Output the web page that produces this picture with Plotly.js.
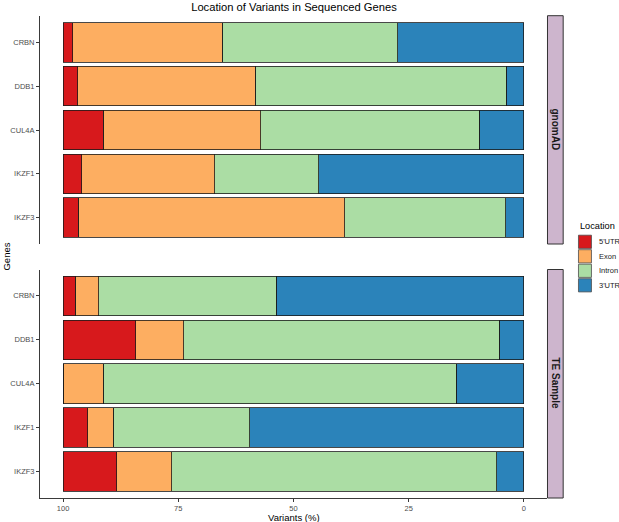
<!DOCTYPE html>
<html>
<head>
<meta charset="utf-8">
<script src="https://cdn.plot.ly/plotly-3.0.1.min.js"></script>
<style>html,body{margin:0;padding:0;background:#fff;}#chart{width:619px;height:522px;}</style>
</head>
<body>
<div id="chart"></div>
<script>
// ---- data ----
var genes = ['CRBN', 'DDB1', 'CUL4A', 'IKZF1', 'IKZF3'];
var locations = ["5'UTR", 'Exon', 'Intron', "3'UTR"];
var colors = ['#D7191C', '#FDAE61', '#ABDDA4', '#2B83BA'];
var facets = ['gnomAD', 'TE Sample'];

var utr5_gnomad   = [2.1, 3.2, 8.7, 4.1, 3.3];
var exon_gnomad   = [32.4, 38.5, 34.2, 28.8, 57.8];
var intron_gnomad = [38.1, 54.5, 47.4, 22.6, 35.0];
var utr3_gnomad   = [27.4, 3.8, 9.7, 44.5, 3.9];

var utr5_te   = [2.7, 15.8, 0, 5.4, 11.7];
var exon_te   = [5.0, 10.4, 8.7, 5.5, 11.9];
var intron_te = [38.6, 68.4, 76.6, 29.6, 70.5];
var utr3_te   = [53.7, 5.4, 14.7, 59.5, 5.9];

var xTicks = [100, 75, 50, 25, 0];

// ---- build ----
(function () {
var W = 619, H = 522;
var L = 40, R = 71.5, T = 16, B = 24;
var plotW = W - L - R, plotH = H - T - B;
function px2x(p) { return (p - L) / plotW; }
function px2y(p) { return (H - B - p) / plotH; }
var FONT = 'Liberation Sans, Arial, sans-serif';

var seriesByFacet = [
  [utr5_gnomad, exon_gnomad, intron_gnomad, utr3_gnomad],
  [utr5_te, exon_te, intron_te, utr3_te]
];
var yaxes = ['y', 'y2'];
var traces = [];
for (var f = 0; f < 2; f++) {
  // stack from 0 outward: 3'UTR first, 5'UTR last
  for (var k = 3; k >= 0; k--) {
    traces.push({
      type: 'bar', orientation: 'h',
      x: seriesByFacet[f][k], y: genes,
      name: locations[k], legendgroup: locations[k],
      showlegend: false,
      xaxis: 'x', yaxis: yaxes[f],
      marker: {color: colors[k], line: {color: '#1a1a1a', width: 0.8}},
      hoverinfo: 'x+y+name'
    });
  }
}

var axisColor = '#3a3a3a';
var tickFont = {family: FONT, size: 7.5, color: '#4D4D4D'};
function yAxis(domain) {
  return {
    domain: domain, anchor: 'x',
    type: 'category', categoryorder: 'array', categoryarray: genes,
    range: [4.6, -0.6], autorange: false,
    showline: true, linecolor: axisColor, linewidth: 1,
    ticks: 'outside', ticklen: 3, tickcolor: axisColor, tickwidth: 1,
    showgrid: false, zeroline: false, tickfont: tickFont, fixedrange: true
  };
}

var shapes = [], annotations = [];
// facet strips
var strips = [[15.7, 244], [269.5, 498]];
for (var s = 0; s < 2; s++) {
  shapes.push({type: 'rect', xref: 'paper', yref: 'paper',
    x0: px2x(548), x1: px2x(563.7), y0: px2y(strips[s][1]), y1: px2y(strips[s][0]),
    fillcolor: '#CDB5CD', line: {color: '#333333', width: 1}});
  annotations.push({xref: 'paper', yref: 'paper', x: px2x(555.85),
    y: px2y((strips[s][0] + strips[s][1]) / 2), text: '<b>' + facets[s] + '</b>',
    textangle: 90, showarrow: false, xanchor: 'center', yanchor: 'middle',
    font: {family: FONT, size: 10, color: '#1A1A1A'}});
}
// legend
annotations.push({xref: 'paper', yref: 'paper', x: px2x(578.5), y: px2y(225.7),
  text: 'Location', showarrow: false, xanchor: 'left', yanchor: 'middle',
  font: {family: FONT, size: 9.2, color: '#000'}});
for (var i = 0; i < locations.length; i++) {
  var keyTop = 235.2 + i * 14.5;
  shapes.push({type: 'rect', xref: 'paper', yref: 'paper',
    x0: px2x(579), x1: px2x(592), y0: px2y(keyTop + 13.2), y1: px2y(keyTop),
    fillcolor: colors[i], line: {color: '#4d4d4d', width: 0.8}});
  annotations.push({xref: 'paper', yref: 'paper', x: px2x(597.5), y: px2y(keyTop + 6.6),
    text: locations[i], showarrow: false, xanchor: 'left', yanchor: 'middle',
    font: {family: FONT, size: 7.5, color: '#1A1A1A'}});
}
// axis titles
annotations.push({xref: 'paper', yref: 'paper', x: 0.5, y: px2y(517),
  text: 'Variants (%)', showarrow: false, xanchor: 'center', yanchor: 'middle',
  font: {family: FONT, size: 9.5, color: '#000'}});
annotations.push({xref: 'paper', yref: 'paper', x: px2x(5.5), y: px2y(257),
  text: 'Genes', showarrow: false, textangle: -90, xanchor: 'center', yanchor: 'middle',
  font: {family: FONT, size: 9.5, color: '#000'}});

var layout = {
  width: W, height: H,
  margin: {l: L, r: R, t: T, b: B, pad: 0},
  paper_bgcolor: '#fff', plot_bgcolor: '#fff',
  barmode: 'stack', bargap: 0.1,
  showlegend: false,
  font: {family: FONT},
  title: {text: 'Location of Variants in Sequenced Genes', x: 294 / W,
    xanchor: 'center', y: 1 - 7.5 / H, yanchor: 'middle',
    font: {family: FONT, size: 11.2, color: '#000'}},
  xaxis: {
    anchor: 'y2', range: [105, -5], autorange: false,
    tickmode: 'array', tickvals: xTicks, ticktext: xTicks.map(String),
    showline: true, linecolor: axisColor, linewidth: 1,
    ticks: 'outside', ticklen: 3, tickcolor: axisColor, tickwidth: 1,
    showgrid: false, zeroline: false, tickfont: tickFont, fixedrange: true
  },
  yaxis: yAxis([px2y(244), 1]),
  yaxis2: yAxis([0, px2y(269.5)]),
  shapes: shapes,
  annotations: annotations
};

Plotly.newPlot('chart', traces, layout, {staticPlot: true, displayModeBar: false});
})();
</script>
</body>
</html>
